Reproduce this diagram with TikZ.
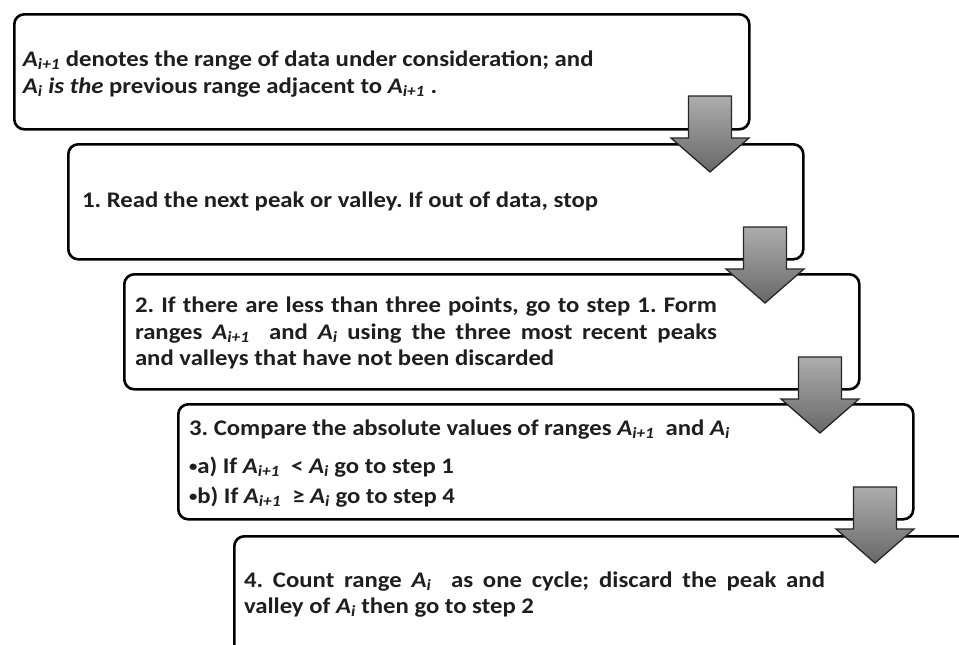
\documentclass[tikz,border=0pt]{standalone}
\usepackage{fontspec}
\setmainfont{Carlito}[FakeStretch=1.11]
\frenchspacing
\newcommand\Rng[1]{\textit{A}\textsubscript{\textit{#1}}}
\newcommand\smallbul{\raisebox{1.2pt}{\fontsize{15}{15}\selectfont •}}
\definecolor{ashtop}{HTML}{ADADAD}
\definecolor{ashbot}{HTML}{686868}
\definecolor{inkc}{HTML}{1E1E1E}
\tikzset{
  stepbox/.style={draw=black, line width=2.6pt, rounded corners=10pt, fill=white,
    minimum width=735pt, minimum height=115pt, anchor=north west, inner sep=0pt},
  blockarr/.style={draw=black!85, line width=1.3pt, top color=ashtop, bottom color=ashbot},
  txt/.style={anchor=base west, inner sep=0pt, outer sep=0pt, text=inkc,
    font=\fontsize{22.3}{27}\selectfont\bfseries}
}
\newcommand\blockarrow[2]{%
  \path[blockarr] (#1-21.5,#2) -- (#1+21.5,#2) -- (#1+21.5,#2+42) -- (#1+39,#2+42)
    -- (#1,#2+76) -- (#1-39,#2+42) -- (#1-21.5,#2+42) -- cycle;}
\begin{document}
\begin{tikzpicture}[x=1pt, y=-1pt]
\useasboundingbox (0,0) rectangle (959,645);
\clip (0,0) rectangle (959,645);
% boxes
\node[stepbox] (b0) at (13,13) {};
\node[stepbox] (b1) at (67,143) {};
\node[stepbox] (b2) at (123,273) {};
\node[stepbox] (b3) at (177,403) {};
\node[stepbox, minimum width=800pt, minimum height=200pt] (b4) at (233,535) {};
% block arrows
\blockarrow{710}{96}
\blockarrow{765}{227}
\blockarrow{820}{357}
\blockarrow{875}{487}
% texts
\node[txt] (t0a) at (23,66) {\Rng{i+1} denotes the range of data under consideration; and};
\node[txt] (t0b) at (23,93) {\Rng{i} \textit{is the} previous range adjacent to \Rng{i+1} .};
\node[txt] (t1) at (82,207) {1. Read the next peak or valley. If out of data, stop};
\node[txt] (t2a) at (135,312) {\makebox[582pt][s]{2. If there are less than three points, go to step 1. Form}};
\node[txt] (t2b) at (135,339) {\makebox[582pt][s]{ranges \Rng{i+1}\ \ and \Rng{i} using the three most recent peaks}};
\node[txt] (t2c) at (135,365) {and valleys that have not been discarded};
\node[txt] (t3a) at (189,435) {3. Compare the absolute values of ranges \Rng{i+1}\ \ and \Rng{i}};
\node[txt] (t3b) at (189,473) {\smallbul a) If \Rng{i+1}\ \ < \Rng{i} go to step 1};
\node[txt] (t3c) at (189,503) {\smallbul b) If \Rng{i+1}\ \ ≥ \Rng{i} go to step 4};
\node[txt] (t4a) at (244,587) {\makebox[581pt][s]{4. Count range \Rng{i}\ \ as one cycle; discard the peak and}};
\node[txt] (t4b) at (244,613) {valley of \Rng{i} then go to step 2};
\end{tikzpicture}
\end{document}
